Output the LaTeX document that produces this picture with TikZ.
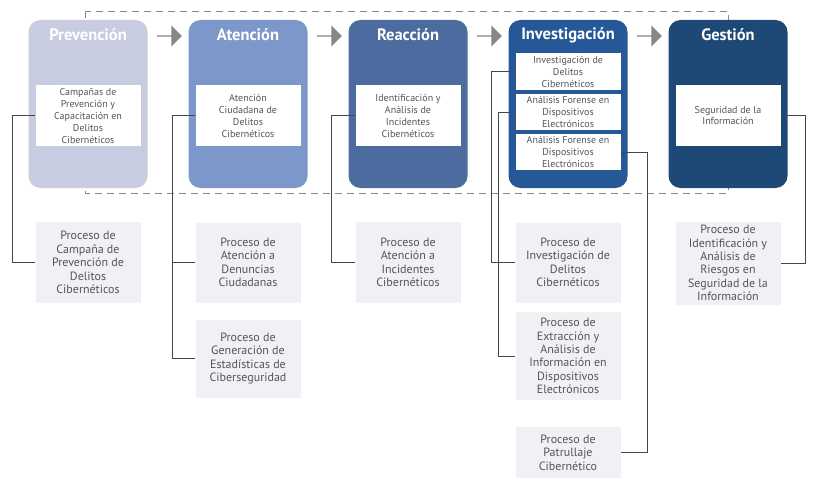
\documentclass[tikz,border=0pt]{standalone}
\usepackage{fontspec}
\setmainfont{PT Sans}
\usetikzlibrary{shapes.arrows,positioning}
\definecolor{prevblue}{RGB}{200,204,224}
\definecolor{atenblue}{RGB}{124,152,202}
\definecolor{reacblue}{RGB}{76,107,158}
\definecolor{inveblue}{RGB}{38,88,152}
\definecolor{gestblue}{RGB}{30,72,118}
\definecolor{arrowgray}{RGB}{135,135,135}
\definecolor{textgray}{RGB}{85,85,85}
\definecolor{lowfill}{RGB}{240,241,245}
\definecolor{linegray}{RGB}{70,70,70}

\begin{document}
\begin{tikzpicture}[x=1pt,y=-1pt,
  every node/.style={align=center},
  stage/.style={rounded corners=12pt,minimum width=119pt,minimum height=168pt,inner sep=0pt},
  stagetitle/.style={text=white,font=\fontsize{16.5}{19}\selectfont\bfseries},
  inbox/.style={fill=white,text=textgray,minimum width=105pt,inner sep=1pt,
    font=\fontsize{10}{12}\selectfont},
  lowbox/.style={fill=lowfill,text=textgray,minimum width=105pt,inner sep=1pt,
    font=\fontsize{12}{13.4}\selectfont},
  blockarrow/.style={single arrow,fill=arrowgray,minimum height=25pt,minimum width=21pt,
    single arrow head extend=3.5pt,inner sep=0pt},
  link/.style={draw=linegray,line width=0.7pt}]
  \useasboundingbox (0,0) rectangle (822,484);
  % dashed frame behind the stages
  \draw[arrowgray,dash pattern=on 7pt off 5pt,line width=0.6pt] (85,11) rectangle (728,193);

  % stages
  \node[stage,fill=prevblue] (prev) at (88,104) {};
  \node[stage,fill=atenblue] (aten) at (248,104) {};
  \node[stage,fill=reacblue] (reac) at (408,104) {};
  \node[stage,fill=inveblue] (inve) at (568,104) {};
  \node[stage,fill=gestblue] (gest) at (728,104) {};
  \node[stagetitle] (prevT) at (88,35) {Prevención};
  \node[stagetitle] (atenT) at (248,35) {Atención};
  \node[stagetitle] (reacT) at (408,35) {Reacción};
  \node[stagetitle] (inveT) at (568,35) {Investigación};
  \node[stagetitle] (gestT) at (728,35) {Gestión};
  \foreach \x/\n in {169/a1,329/a2,489/a3,649/a4}
    \node[blockarrow] (\n) at (\x,36) {};

  % functions inside the stages
  \node[inbox,minimum height=61pt] (pi) at (88,115.5) {Campañas de\\Prevención y\\Capacitación en\\Delitos\\Cibernéticos};
  \node[inbox,minimum height=61pt] (ai) at (248,115.5) {Atención\\Ciudadana de\\Delitos\\Cibernéticos};
  \node[inbox,minimum height=61pt] (ri) at (408,115.5) {Identificación y\\Análisis de\\Incidentes\\Cibernéticos};
  \node[inbox,minimum height=37pt] (i1) at (568,71.5) {Investigación de\\Delitos\\Cibernéticos};
  \node[inbox,minimum height=36pt] (i2) at (568,112) {Análisis Forense en\\Dispositivos\\Electrónicos};
  \node[inbox,minimum height=36pt] (i3) at (568,152) {Análisis Forense en\\Dispositivos\\Electrónicos};
  \node[inbox,minimum height=61pt] (gi) at (728,115.5) {Seguridad de la\\Información};

  % processes
  \node[lowbox,minimum height=81pt] (l1) at (88,262.5) {Proceso de\\Campaña de\\Prevención de\\Delitos\\Cibernéticos};
  \node[lowbox,minimum height=80pt] (l2a) at (248,262.5) {Proceso de\\Atención a\\Denuncias\\Ciudadanas};
  \node[lowbox,minimum height=78pt] (l2b) at (248,358.5) {Proceso de\\Generación de\\Estadísticas de\\Ciberseguridad};
  \node[lowbox,minimum height=81pt] (l3) at (408,262.5) {Proceso de\\Atención a\\Incidentes\\Cibernéticos};
  \node[lowbox,minimum height=80pt] (l4a) at (568,262.5) {Proceso de\\Investigación de\\Delitos\\Cibernéticos};
  \node[lowbox,minimum height=88pt] (l4b) at (568,356) {Proceso de\\Extracción y\\Análisis de\\Información en\\Dispositivos\\Electrónicos};
  \node[lowbox,minimum height=51pt] (l4c) at (568,452.5) {Proceso de\\Patrullaje\\Cibernético};
  \node[lowbox,minimum height=83pt] (l5) at (728,263) {Proceso de\\Identificación y\\Análisis de\\Riesgos en\\Seguridad de la\\Información};

  % connectors
  \draw[link] (pi.west) -- ++(-23,0) |- (l1.west);
  \draw[link] (ai.west) -- ++(-23,0) coordinate (aj) |- (l2b.west);
  \draw[link] (l2a.west) -- (l2a.west -| aj);
  \draw[link] (ri.west) -- ++(-24,0) |- (l3.west);
  \draw[link] (i1.west) -- ++(-23.5,0) |- (l4a.west);
  \draw[link] (i2.west) -- ++(-16.5,0) |- (l4b.west);
  \draw[link] (i3.east) -- ++(27,0) |- (l4c.east);
  \draw[link] (gi.east) -- ++(25,0) |- (l5.east);
\end{tikzpicture}
\end{document}
